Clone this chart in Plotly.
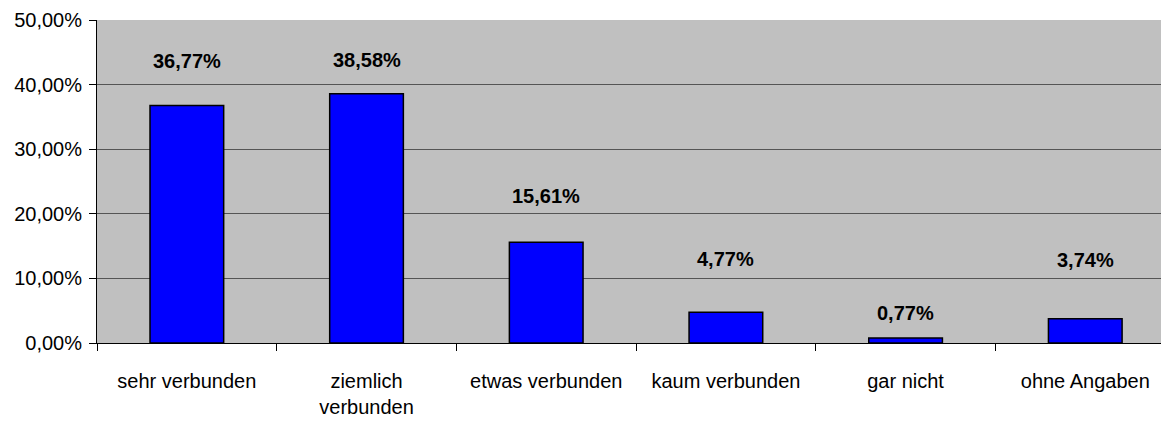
import plotly.graph_objects as go

categories = ["sehr verbunden", "ziemlich<br>verbunden", "etwas verbunden",
              "kaum verbunden", "gar nicht", "ohne Angaben"]
values = [36.77, 38.58, 15.61, 4.77, 0.77, 3.74]
value_labels = ["36,77%", "38,58%", "15,61%", "4,77%", "0,77%", "3,74%"]
y_ticks = [0, 10, 20, 30, 40, 50]
y_tick_labels = ["0,00%", "10,00%", "20,00%", "30,00%", "40,00%", "50,00%"]

# pixel offsets of the value labels above each bar (placed by hand in the original)
label_shift = [44, 34, 46, 53, 25, 59]

FONT = "Liberation Sans, Arial, sans-serif"

fig = go.Figure(go.Bar(
    x=categories,
    y=values,
    width=0.41,
    marker=dict(color="#0000FF", line=dict(color="black", width=1.5)),
    hoverinfo="skip",
))

for cat, val, lab, sh in zip(categories, values, value_labels, label_shift):
    fig.add_annotation(
        x=cat, y=val, text="<b>" + lab + "</b>",
        showarrow=False, yanchor="middle", yshift=sh,
        font=dict(family=FONT, size=20, color="black"),
    )

# page body adds an 8px margin, so the figure is a bit smaller than the window
fig.update_layout(
    width=1161,
    height=415,
    margin=dict(l=89, r=0, t=12, b=80),
    paper_bgcolor="white",
    plot_bgcolor="#C0C0C0",
    font=dict(family=FONT, size=20, color="black"),
    showlegend=False,
    bargap=0.59,
)

fig.update_xaxes(
    type="category",
    range=[-0.5, 5.466],
    tickson="boundaries",
    ticks="outside",
    ticklen=7,
    tickcolor="black",
    showline=True,
    linecolor="black",
    linewidth=1,
    showgrid=False,
    ticklabelstandoff=20,
    tickfont=dict(size=20),
)

fig.update_yaxes(
    range=[0, 50],
    tickvals=y_ticks,
    ticktext=y_tick_labels,
    ticks="outside",
    ticklen=7,
    tickcolor="black",
    showline=True,
    linecolor="black",
    linewidth=1,
    showgrid=True,
    gridcolor="#555555",
    gridwidth=1,
    zeroline=False,
    ticklabelstandoff=3,
    tickfont=dict(size=20),
)

fig.write_html("out.html")
